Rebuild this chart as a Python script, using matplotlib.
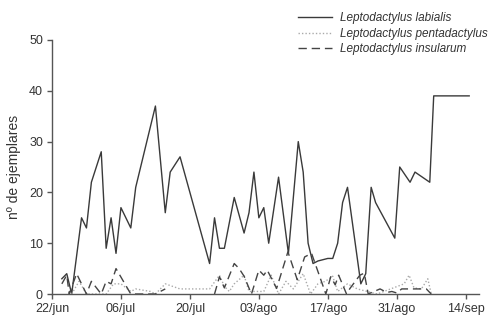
import numpy as np
import matplotlib.pyplot as plt

plt.rcParams['font.family'] = ['Liberation Sans', 'DejaVu Sans']

# days counted from 22/jun
labialis_days = [2, 3, 4, 6, 7, 8, 10, 11, 12, 13, 14, 16, 17, 21, 23, 24, 26, 32, 33, 34, 35,
                 37, 39, 40, 41, 42, 43, 44, 46, 48, 50, 51, 52, 53, 54, 56, 57, 58, 59, 60,
                 62.7, 63.7, 64.8, 65.7, 69.6, 70.6, 72.7, 73.7, 76.7, 77.5, 84.7]
labialis = [3, 4, 0, 15, 13, 22, 28, 9, 15, 8, 17, 13, 21, 37, 16, 24, 27, 6, 15, 9, 9,
            19, 12, 16, 24, 15, 17, 10, 23, 8, 30, 24, 10, 6, 6.5, 7, 7, 10, 18, 21,
            2, 4, 21, 18, 11, 25, 22, 24, 22, 39, 39]

penta_days = [4, 5.5, 7, 11, 12.5, 14, 16, 17, 20, 21, 23, 26, 32, 34, 35, 36, 37, 39, 40, 43,
              44.5, 46, 47.5, 49, 51, 52.5, 54, 55.5, 57, 58, 60, 62, 64, 66, 71.5, 72.5,
              73.5, 75, 76.3, 77]
penta = [0, 2.5, 0, 0, 2, 2, 0.5, 1, 0.5, 0, 2, 1, 1, 3.7, 1.5, 0.5, 2, 3.7, 0.5, 0.5,
         3.7, 0, 2.5, 1, 4, 0, 2, 2.5, 3.5, 0.5, 2, 1, 0.5, 0, 2, 3.7,
         1.2, 1, 3, 0]

insul_days = [2, 3, 3.5, 5, 7, 8, 10, 11, 12, 13, 16, 21, 23, 27,
              33, 34, 35, 37, 38, 39, 40.5, 42, 43, 43.7, 45.6, 47.9, 49.8, 51.3, 52.7,
              55.6, 56.6, 57.5, 58.2, 59.8, 60.5, 62.5, 63.4, 64.2, 66.6, 68, 69, 70, 71,
              73, 76, 77]
insul = [2, 3.7, 0, 4, 0, 2.5, 0, 2.5, 2, 5, 0, 0, 1, np.nan,
         0, 3.4, 1.2, 6, 5, 3.5, 0, 4.7, 3.7, 4.7, 1.1, 8.3, 2.8, 7.3, 8,
         0, 3.4, 1.8, 3.7, 0, 1.1, 3.7, 4.1, 0, 1, 0.3, 0.5, 0.2, 1,
         1, 1, 0]

tick_days = [0, 14, 28, 42, 56, 70, 84]
tick_labels = ['22/jun', '06/jul', '20/jul', '03/ago', '17/ago', '31/ago', '14/sep']

fig = plt.figure(figsize=(4.89, 3.21), dpi=100)
ax = fig.add_axes([0.1063, 0.0841, 0.8733, 0.7913])

ax.plot(labialis_days, labialis, color='#3a3a3a', lw=1.0, ls='-',
        label='Leptodactylus labialis')
ax.plot(penta_days, penta, color='#aaaaaa', lw=1.0, ls=(0, (1, 1.5)),
        label='Leptodactylus pentadactylus')
ax.plot(insul_days, insul, color='#444444', lw=1.0, ls=(0, (6, 3.5)),
        label='Leptodactylus insularum')

ax.set_xlim(0, 86.7)
ax.set_ylim(0, 50)
ax.set_xticks(tick_days)
ax.set_xticklabels(tick_labels)
ax.set_yticks([0, 10, 20, 30, 40, 50])
ax.set_ylabel('nº de ejemplares', fontsize=10, color='#333333', labelpad=6)

for side in ['top', 'right']:
    ax.spines[side].set_visible(False)
for side in ['left', 'bottom']:
    ax.spines[side].set_color('#555555')
    ax.spines[side].set_linewidth(1.0)
ax.tick_params(direction='out', length=3.5, width=1.0, color='#555555',
               labelsize=9, labelcolor='#333333', pad=3)

leg = fig.legend(loc='upper left', bbox_to_anchor=(0.593, 0.988), frameon=False,
                 prop={'style': 'italic', 'size': 8.5}, handlelength=2.9,
                 handletextpad=0.65, labelspacing=0.3, borderaxespad=0.3)
for t in leg.get_texts():
    t.set_color('#333333')

fig.savefig('out.png', dpi=100)
